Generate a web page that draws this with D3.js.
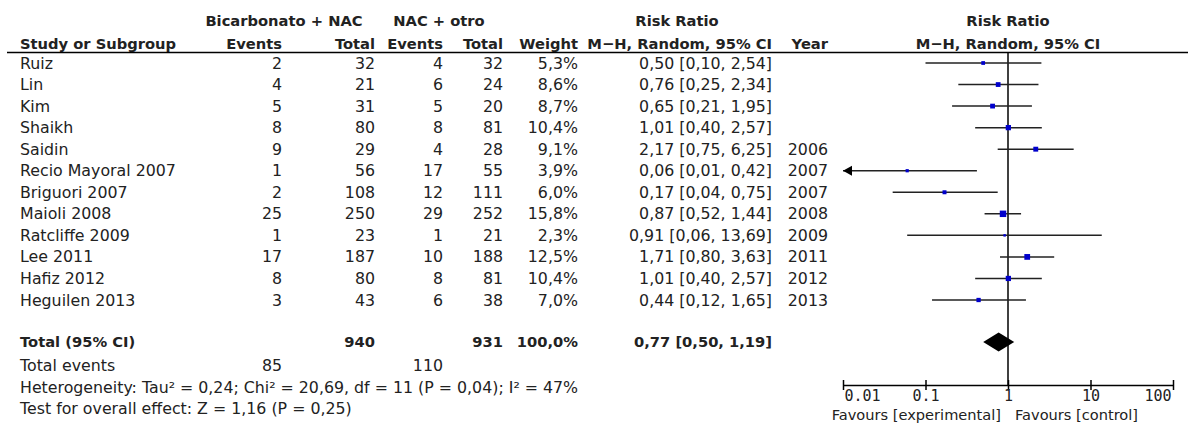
<!DOCTYPE html>
<html>
<head>
<meta charset="utf-8">
<script src="https://cdn.jsdelivr.net/npm/d3@7"></script>
<style>
  body { margin: 0; background: #fff; }
  text { font-family: "DejaVu Sans", sans-serif; font-size: 15.8px; fill: #222; }
  .b { font-weight: bold; font-size: 14.7px; }
  .fav { font-size: 14.6px; }
</style>
</head>
<body>
<svg id="forest" width="1192" height="423"></svg>
<script>
// study data
const studies = ["Ruiz", "Lin", "Kim", "Shaikh", "Saidin", "Recio Mayoral 2007", "Briguori 2007",
  "Maioli 2008", "Ratcliffe 2009", "Lee 2011", "Hafiz 2012", "Heguilen 2013"];
const expEvents = [2, 4, 5, 8, 9, 1, 2, 25, 1, 17, 8, 3];
const expTotal = [32, 21, 31, 80, 29, 56, 108, 250, 23, 187, 80, 43];
const ctlEvents = [4, 6, 5, 8, 4, 17, 12, 29, 1, 10, 8, 6];
const ctlTotal = [32, 24, 20, 81, 28, 55, 111, 252, 21, 188, 81, 38];
const weights = [5.3, 8.6, 8.7, 10.4, 9.1, 3.9, 6.0, 15.8, 2.3, 12.5, 10.4, 7.0];
const rr = [0.50, 0.76, 0.65, 1.01, 2.17, 0.06, 0.17, 0.87, 0.91, 1.71, 1.01, 0.44];
const ciLow = [0.10, 0.25, 0.21, 0.40, 0.75, 0.01, 0.04, 0.52, 0.06, 0.80, 0.40, 0.12];
const ciHigh = [2.54, 2.34, 1.95, 2.57, 6.25, 0.42, 0.75, 1.44, 13.69, 3.63, 2.57, 1.65];
const years = ["", "", "", "", "2006", "2007", "2007", "2008", "2009", "2011", "2012", "2013"];

// pooled result
const totalExp = 940, totalCtl = 931, totalWeight = 100.0;
const eventsExp = 85, eventsCtl = 110;
const pooled = [0.50, 0.77, 1.19]; // low, estimate, high
const heterogeneity = "Heterogeneity: Tau² = 0,24; Chi² = 20,69, df = 11 (P = 0,04); I² = 47%";
const overall = "Test for overall effect: Z = 1,16 (P = 0,25)";
const axisTicks = [0.01, 0.1, 1, 10, 100];

const fmt2 = v => d3.format(".2f")(v).replace(".", ",");
const fmt1 = v => d3.format(".1f")(v).replace(".", ",");

const svg = d3.select("#forest");

// scales
const x = d3.scaleLog().domain([0.01, 100]).range([843, 1173]);
const y = d3.scalePoint().domain(studies).range([63, 300]);
const size = d3.scaleSqrt().domain([0, 16]).range([0, 6.5]);
const xmin = x.domain()[0], xmax = x.domain()[1];

// column anchors (right aligned)
const col = {name: 20, ee: 282, et: 375, ce: 443, ct: 503, w: 578, rr: 772, yr: 828};

function txt(xp, yp, s, anchor, cls) {
  svg.append("text").attr("x", xp).attr("y", yp)
    .attr("text-anchor", anchor || "start")
    .attr("class", cls || null).text(s);
}

// headers
txt(284, 26, "Bicarbonato + NAC", "middle", "b");
txt(439, 26, "NAC + otro", "middle", "b");
txt(677, 26, "Risk Ratio", "middle", "b");
txt(1008, 26, "Risk Ratio", "middle", "b");
txt(col.name, 49, "Study or Subgroup", "start", "b");
txt(col.ee, 49, "Events", "end", "b");
txt(col.et, 49, "Total", "end", "b");
txt(col.ce, 49, "Events", "end", "b");
txt(col.ct, 49, "Total", "end", "b");
txt(col.w, 49, "Weight", "end", "b");
txt(col.rr, 49, "M\u2212H, Random, 95% CI", "end", "b");
txt(col.yr, 49, "Year", "end", "b");
txt(1008, 49, "M\u2212H, Random, 95% CI", "middle", "b");

svg.append("line").attr("x1", 7).attr("x2", 1188).attr("y1", 52.5).attr("y2", 52.5)
  .attr("stroke", "#000").attr("stroke-width", 1.5);

// table rows
studies.forEach((s, i) => {
  const by = y(s) + 5.5;
  txt(col.name, by, s);
  txt(col.ee, by, expEvents[i], "end");
  txt(col.et, by, expTotal[i], "end");
  txt(col.ce, by, ctlEvents[i], "end");
  txt(col.ct, by, ctlTotal[i], "end");
  txt(col.w, by, fmt1(weights[i]) + "%", "end");
  txt(col.rr, by, fmt2(rr[i]) + " [" + fmt2(ciLow[i]) + ", " + fmt2(ciHigh[i]) + "]", "end");
  if (years[i]) txt(col.yr, by, years[i], "end");
});

// totals
const ty = 347;
txt(col.name, ty, "Total (95% CI)", "start", "b");
txt(col.et, ty, totalExp, "end", "b");
txt(col.ct, ty, totalCtl, "end", "b");
txt(col.w, ty, fmt1(totalWeight) + "%", "end", "b");
txt(col.rr, ty, fmt2(pooled[1]) + " [" + fmt2(pooled[0]) + ", " + fmt2(pooled[2]) + "]", "end", "b");
txt(col.name, 371, "Total events");
txt(col.ee, 371, eventsExp, "end");
txt(col.ce, 371, eventsCtl, "end");
txt(col.name, 393, heterogeneity);
txt(col.name, 414, overall);

// line of no effect
svg.append("line").attr("x1", x(1)).attr("x2", x(1)).attr("y1", 52.5).attr("y2", 385)
  .attr("stroke", "#000").attr("stroke-width", 1.5);

// confidence intervals
const ci = svg.append("g");
studies.forEach((s, i) => {
  const lo = Math.max(ciLow[i], xmin), hi = Math.min(ciHigh[i], xmax);
  ci.append("line")
    .attr("x1", x(lo)).attr("x2", x(hi))
    .attr("y1", y(s)).attr("y2", y(s))
    .attr("stroke", "#222").attr("stroke-width", 1.5);
  if (ciLow[i] <= xmin) {
    const ax = x(xmin);
    ci.append("path")
      .attr("d", `M${ax},${y(s)} l9,-5 l0,10 z`)
      .attr("fill", "#000");
  }
  const sz = size(weights[i]);
  ci.append("rect")
    .attr("x", x(rr[i]) - sz / 2).attr("y", y(s) - sz / 2)
    .attr("width", sz).attr("height", sz)
    .attr("fill", "#0000cc");
});

// pooled diamond
const dy = 342, dh = 9.5;
svg.append("path")
  .attr("d", `M${x(pooled[0])},${dy} L${x(pooled[1])},${dy - dh} L${x(pooled[2])},${dy} L${x(pooled[1])},${dy + dh} Z`)
  .attr("fill", "#000");

// axis
const ax = svg.append("g").attr("transform", "translate(0,385)")
  .call(d3.axisBottom(x).tickValues(axisTicks).tickSizeOuter(0).tickSizeInner(5)
    .tickFormat(d => String(d)));
ax.select(".domain").attr("stroke", "#000").attr("stroke-width", 1.5);
ax.selectAll(".tick line").attr("y1", -5).attr("y2", 5).attr("stroke", "#000").attr("stroke-width", 1.5);
ax.selectAll(".tick text")
  .attr("y", 15.5).attr("dy", 0)
  .style("font-family", "'DejaVu Sans Mono', monospace").style("font-size", "15px").style("fill", "#222")
  .attr("text-anchor", (d, i) => i === 0 ? "start" : (i === axisTicks.length - 1 ? "end" : "middle"))
  .attr("dx", (d, i) => i === 0 ? 1 : (i === axisTicks.length - 1 ? -2 : 0));

txt(x(1) - 7, 419.5, "Favours [experimental]", "end", "fav");
txt(x(1) + 7, 419.5, "Favours [control]", "start", "fav");
</script>
</body>
</html>
